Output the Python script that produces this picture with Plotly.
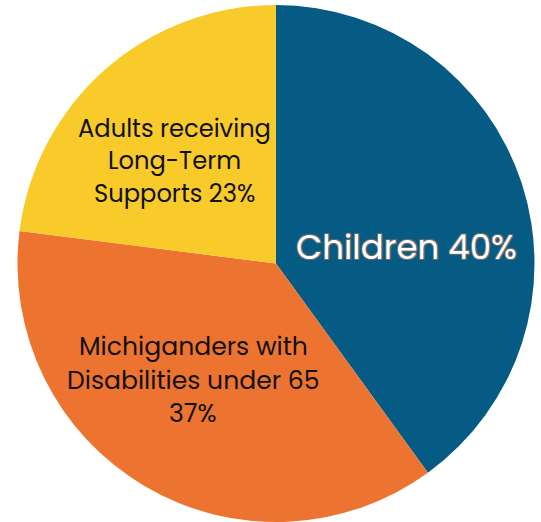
import plotly.graph_objects as go

categories = ["Children", "Michiganders with Disabilities under 65", "Adults receiving Long-Term Supports"]
values = [40, 37, 23]
colors = ["#055B84", "#EC7430", "#F8CA2A"]
# label lines as shown on the chart
label_lines = [
    ["Children 40%"],
    ["Michiganders with", "Disabilities under 65", "37%"],
    ["Adults receiving", "Long-Term", "Supports 23%"],
]

W, H = 541, 522
ML, MR, MT, MB = 17, 6, 5, 0

fig = go.Figure(go.Pie(
    labels=categories,
    values=values,
    sort=False,
    direction="clockwise",
    rotation=0,
    marker=dict(colors=colors, line=dict(width=0)),
    textinfo="none",
    hoverinfo="label+percent",
    showlegend=False,
))

def px_to_paper(px, py):
    return (px - ML) / (W - ML - MR), (H - MB - py) / (H - MT - MB)

# label centres (pixels), sizes, line spacing
label_pos = [(406, 247), (193, 380), (174, 161)]
label_size = [34, 25.1, 24.2]
line_gap = [0, 33.5, 32.5]
label_color = ["white", "#111111", "#111111"]
shadow = ["1px 1px 0 #6a6a6a, -1px -1px 0 #6a6a6a, 1px -1px 0 #6a6a6a, -1px 1px 0 #6a6a6a", "none", "none"]

for i, lines in enumerate(label_lines):
    cx, cy = label_pos[i]
    n = len(lines)
    for j, line in enumerate(lines):
        ly = cy + (j - (n - 1) / 2) * line_gap[i]
        x, y = px_to_paper(cx, ly)
        fig.add_annotation(
            x=x, y=y, xref="paper", yref="paper",
            text=line, showarrow=False,
            xanchor="center", yanchor="middle",
            font=dict(family="Poppins, Open Sans, sans-serif", size=label_size[i],
                      color=label_color[i], shadow=shadow[i]),
        )

fig.update_layout(
    width=W, height=H,
    margin=dict(l=ML, r=MR, t=MT, b=MB),
    paper_bgcolor="white",
    plot_bgcolor="white",
)

fig.write_html("out.html", config={"displayModeBar": False},
               post_script="document.body.style.margin='0px';document.body.style.overflow='hidden';")
